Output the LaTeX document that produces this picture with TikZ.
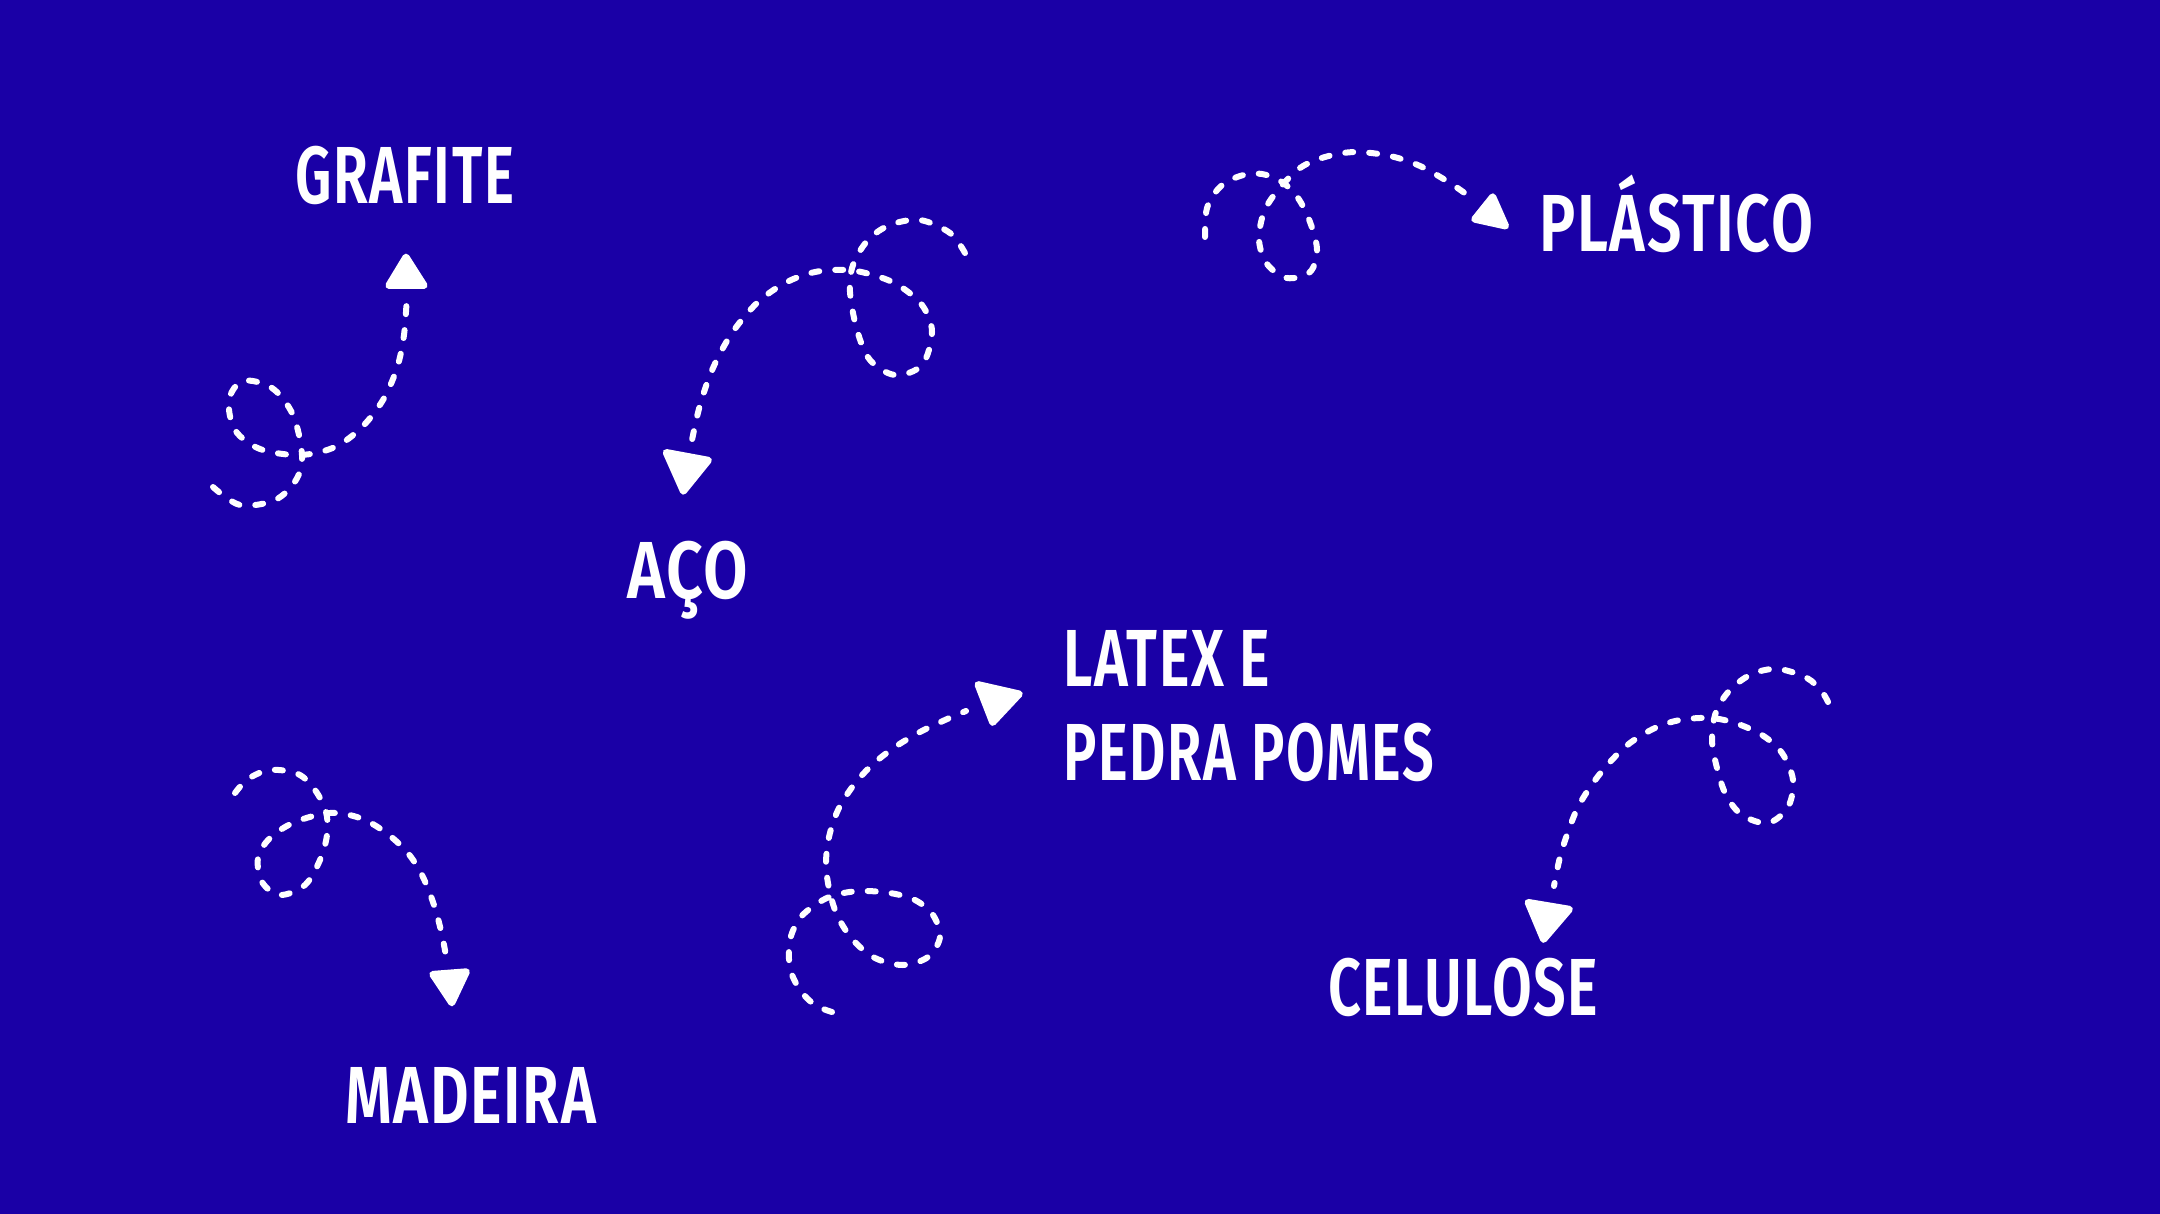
\documentclass[tikz,border=0pt]{standalone}
\usepackage{fontspec}
\usepackage{graphicx}
\newfontfamily\labfont{Fira Sans SemiBold}[FakeStretch=0.72, LetterSpace=2]
\newcommand{\fitto}[2]{\resizebox{#1}{\height}{#2}}
\definecolor{bg}{RGB}{26,0,166}
\tikzset{
  lab/.style={anchor=base west, inner sep=0pt, text=white, font=\labfont\fontsize{81}{94}\selectfont},
  trail/.style={draw=white, line width=6pt, line cap=round, dash pattern=on 8pt off 16pt},
  tiphead/.style={fill=white, draw=white, line width=7pt, line join=round}
}
\begin{document}
\begin{tikzpicture}[x=1pt,y=-1pt]
\fill[bg] (0,0) rectangle (2160,1214);
\useasboundingbox (0,0) rectangle (2160,1214);

% labels
\node[lab] (grafite) at (295,204) {\fitto{219pt}{GRAFITE}};
\node[lab] (aco) at (627,598) {\fitto{121pt}{AÇO}};
\node[lab] (plastico) at (1539,252) {\fitto{274pt}{PLÁSTICO}};
\node[lab] (madeira) at (345,1123) {\fitto{251pt}{MADEIRA}};
\node[lab] (latexa) at (1063,686) {\fitto{207pt}{LATEX E}};
\node[lab] (latexb) at (1063,780) {\fitto{371pt}{PEDRA POMES}};
\node[lab] (celulose) at (1328,1015) {\fitto{270pt}{CELULOSE}};

% arrow 1 - grafite
\draw[trail] plot[smooth, tension=0.55] coordinates {(213,487) (240,505) (275,500) (296,480) (302,455) (293,415) (272,388) (243,381) (229,400) (235,430) (260,449) (300,455) (335,447) (362,427) (383,400) (397,368) (404,335) (407,295)};
\filldraw[tiphead] (406,257.1) -- (388.8,285.5) -- (424.1,285.5) -- cycle;

% arrow 2 - aco
\draw[trail] plot[smooth, tension=0.55] coordinates {(965,253) (950,233) (920,220) (890,225) (868,240) (853,265) (850,292) (857,330) (870,360) (895,375) (922,365) (932,332) (922,305) (898,285) (873,275) (847,270) (815,272) (785,283) (757,303) (732,333) (713,368) (700,405) (692,440)};
\filldraw[tiphead] (666.2,452.5) -- (708.4,460.3) -- (683.4,491.2) -- cycle;

% arrow 3 - plastico
\draw[trail] plot[smooth, tension=0.55] coordinates {(1205,237) (1207,208) (1220,187) (1240,176) (1262,174) (1282,182) (1298,198) (1310,222) (1317,250) (1310,272) (1287,278) (1267,264) (1259,240) (1264,212) (1278,190) (1300,168) (1325,157) (1355,152) (1390,156) (1420,166) (1450,183) (1470,197)};
\filldraw[tiphead] (1474.7,219.2) -- (1505.6,226.0) -- (1492.7,196.8) -- cycle;

% arrow 4 - madeira
\draw[trail] plot[smooth, tension=0.55] coordinates {(235,793) (248,779) (270,770) (298,774) (315,790) (326,812) (327,835) (320,860) (305,885) (280,895) (262,882) (258,858) (270,838) (295,822) (330,813) (360,818) (385,832) (407,852) (422,875) (434,905) (442,935) (447,962)};
\filldraw[tiphead] (432.8,974.4) -- (466.4,971.8) -- (451.8,1002.8) -- cycle;

% arrow 5 - latex
\draw[trail] plot[smooth, tension=0.55] coordinates {(832,1012) (815,1005) (800,990) (790,968) (790,940) (800,918) (818,903) (835,895) (860,891) (890,893) (915,900) (933,915) (940,937) (928,957) (903,965) (875,958) (853,940) (838,917) (830,893) (826,865) (829,837) (838,810) (853,786) (872,765) (895,747) (920,732) (945,720) (966,711)};
\filldraw[tiphead] (978,684.6) -- (1019.3,694) -- (992.7,722.4) -- cycle;

% arrow 6 - celulose
\draw[trail] plot[smooth, tension=0.55] coordinates {(1828,702) (1822,692) (1807,678) (1778,669) (1752,674) (1730,690) (1716,712) (1712,740) (1717,768) (1726,795) (1742,815) (1768,823) (1788,807) (1793,780) (1782,753) (1762,735) (1735,723) (1710,718) (1680,720) (1655,728) (1630,743) (1610,762) (1593,783) (1578,807) (1568,832) (1560,857) (1554,886)};
\filldraw[tiphead] (1528.1,902.4) -- (1569.4,909.3) -- (1543.6,939.4) -- cycle;
\end{tikzpicture}
\end{document}
